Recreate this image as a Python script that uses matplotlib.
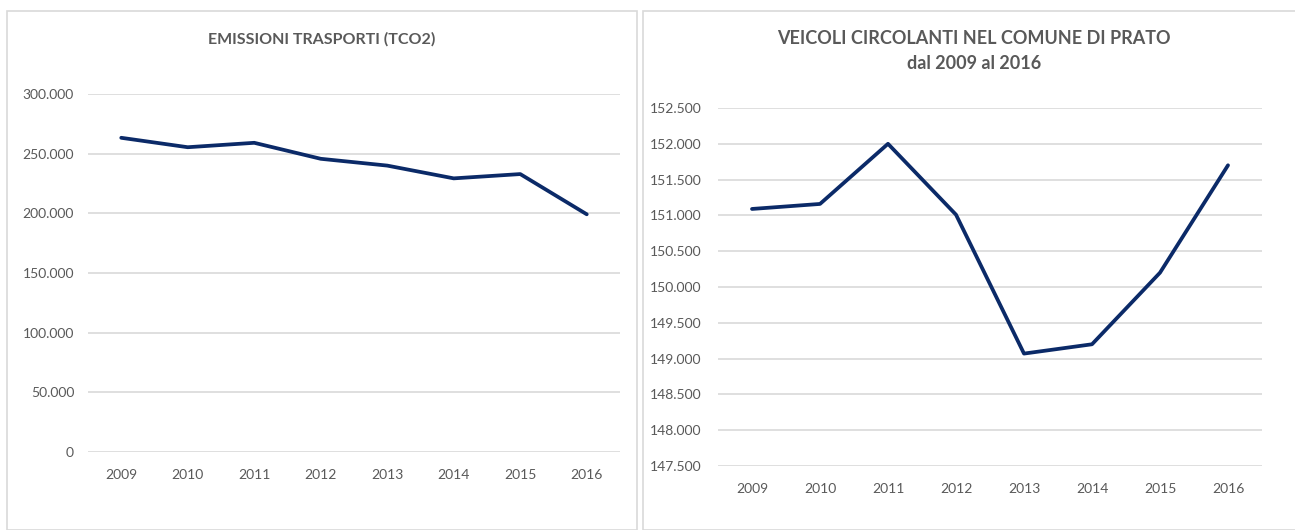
import matplotlib
matplotlib.use("Agg")
import matplotlib.pyplot as plt
from matplotlib.patches import Rectangle
from matplotlib.ticker import FuncFormatter, MultipleLocator

plt.rcParams["font.family"] = ["Lato", "DejaVu Sans"]

years = ["2009", "2010", "2011", "2012", "2013", "2014", "2015", "2016"]
emissioni = [263300, 255400, 259100, 245700, 240000, 229300, 232900, 199200]
veicoli = [151090, 151160, 152000, 151010, 149070, 149200, 150200, 151700]

LINE = "#0b2a68"
GRID = "#d9d9d9"
TEXT = "#595959"

W, H = 1295, 530
fig = plt.figure(figsize=(W / 100, H / 100), dpi=100)

# panel borders (pixel coords -> figure fractions)
for x0, x1 in [(7, 637), (643, 1300)]:
    fig.patches.append(Rectangle((x0 / W, 0), (x1 - x0) / W, (H - 11) / H,
                                 transform=fig.transFigure, fill=False,
                                 edgecolor=GRID, lw=1.2))

dot_fmt = FuncFormatter(lambda v, p: f"{v:,.0f}".replace(",", "."))


def style(ax, ylim, step, ypad):
    ax.set_ylim(*ylim)
    ax.set_xlim(-0.5, len(years) - 0.5)
    ax.yaxis.set_major_locator(MultipleLocator(step))
    ax.yaxis.set_major_formatter(dot_fmt)
    ax.grid(axis="y", color=GRID, lw=1.2)
    ax.set_axisbelow(True)
    for s in ax.spines.values():
        s.set_visible(False)
    ax.tick_params(length=0, labelsize=10, labelcolor=TEXT)
    ax.tick_params(axis="y", pad=ypad)
    ax.tick_params(axis="x", pad=12)


ax1 = fig.add_axes([88 / W, 78 / H, 532 / W, 358 / H])
ax1.plot(years, emissioni, color=LINE, lw=2.7, solid_capstyle="round")
style(ax1, (0, 300000), 50000, 10)

ax2 = fig.add_axes([718 / W, 64 / H, 544 / W, 358 / H])
ax2.plot(years, veicoli, color=LINE, lw=2.7, solid_capstyle="round")
style(ax2, (147500, 152500), 500, 12)

fig.text(322 / W, 1 - 39 / H, "EMISSIONI TRASPORTI (TCO2)", ha="center",
         va="center", fontsize=11.5, fontweight="bold", color=TEXT)
fig.text(974 / W, 1 - 51 / H, "VEICOLI CIRCOLANTI NEL COMUNE DI PRATO\ndal 2009 al 2016",
         ha="center", va="center", fontsize=13, fontweight="bold", color=TEXT,
         linespacing=1.55)

fig.savefig("out.png", dpi=100)
